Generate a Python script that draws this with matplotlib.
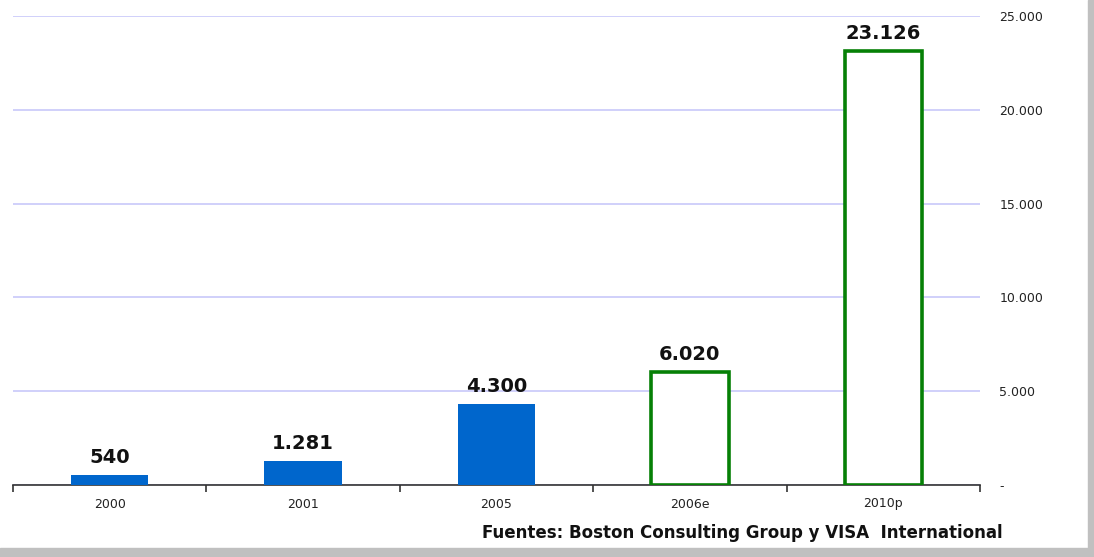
import matplotlib.pyplot as plt
from matplotlib.patches import Rectangle
from matplotlib.ticker import FixedLocator, FuncFormatter

# data
years = ["2000", "2001", "2005", "2006e", "2010p"]
values = [540, 1281, 4300, 6020, 23126]
projected = [False, False, False, True, True]
y_ticks = [0, 5000, 10000, 15000, 20000, 25000]
source = "Fuentes: Boston Consulting Group y VISA  International"


def fmt_es(v):
    return f"{v:,.0f}".replace(",", ".")


W, H = 1094, 557
fig = plt.figure(figsize=(W / 100, H / 100), dpi=100)
fig.patch.set_facecolor("white")

ax = fig.add_axes([13 / W, (H - 485) / H, (980 - 13) / W, (485 - 16) / H])

x = range(len(years))
for i, (v, proj) in enumerate(zip(values, projected)):
    if proj:
        ax.bar(i, v, width=0.4, facecolor="white", edgecolor="#068006",
               linewidth=2.6, zorder=3)
    else:
        ax.bar(i, v, width=0.4, color="#0066cc", zorder=3)
    ax.annotate(fmt_es(v), (i, v), xytext=(0, 6), textcoords="offset points",
                ha="center", va="bottom", fontsize=14, fontweight="bold",
                color="#111111")

ax.set_xlim(-0.5, len(years) - 0.5)
ax.set_ylim(0, 25000)

# grid
ax.yaxis.set_major_locator(FixedLocator(y_ticks))
ax.grid(axis="y", color="#cdcdfa", linewidth=1.3, zorder=0)
ax.set_axisbelow(True)

ax.yaxis.tick_right()
ax.yaxis.set_major_formatter(FuncFormatter(lambda v, p: "-" if v == 0 else fmt_es(v)))
ax.tick_params(axis="y", length=0, pad=14, labelsize=9, labelcolor="#222222")

# x axis: ticks at category boundaries, labels centered
ax.set_xticks([i - 0.5 for i in range(len(years) + 1)])
ax.set_xticklabels([])
ax.set_xticks(list(x), minor=True)
ax.set_xticklabels(years, minor=True, fontsize=9, color="#222222")
ax.tick_params(axis="x", which="major", length=5, width=1.2, color="#333333",
               direction="out")
ax.tick_params(axis="x", which="minor", length=0, pad=9)

for s in ["top", "right", "left"]:
    ax.spines[s].set_visible(False)
ax.spines["bottom"].set_color("#333333")
ax.spines["bottom"].set_linewidth(1.2)

fig.text(1003 / W, 1 - 533 / H, source, ha="right", va="center",
         fontsize=12, fontweight="bold", color="#111111")

# gray frame on right and bottom
fig.add_artist(Rectangle((1088 / W, 0), 6 / W, 1, transform=fig.transFigure,
                         color="#c0c0c0", zorder=10))
fig.add_artist(Rectangle((0, 0), 1, 9 / H, transform=fig.transFigure,
                         color="#c0c0c0", zorder=10))

fig.savefig("out.png", dpi=100, facecolor="white")
